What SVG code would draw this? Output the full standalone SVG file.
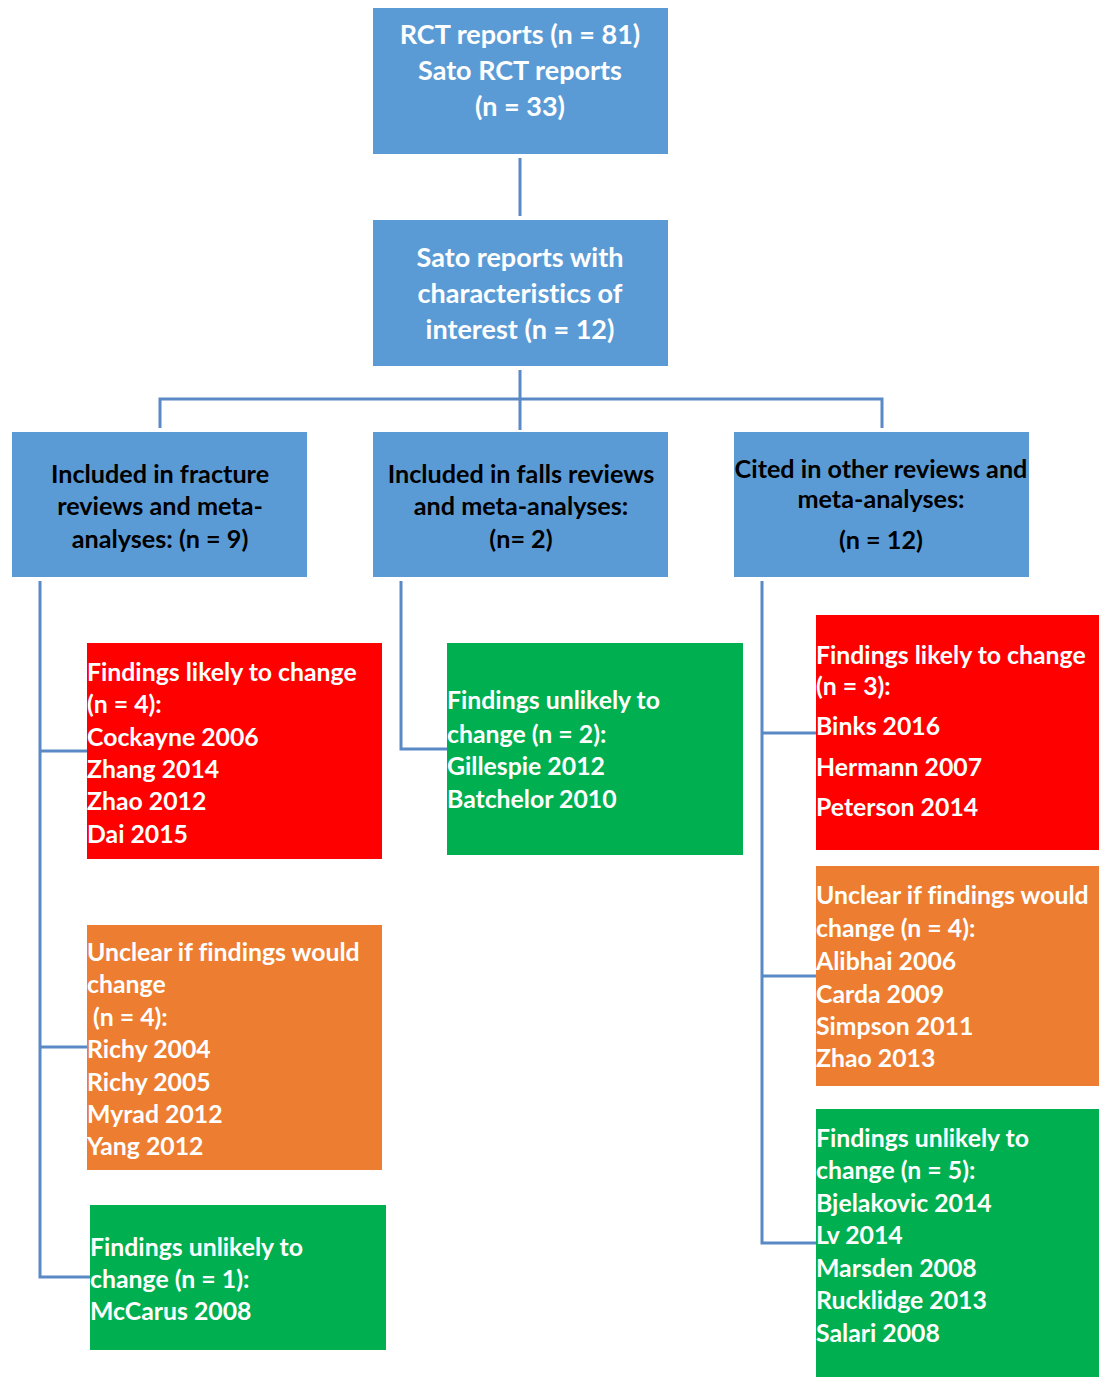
<svg xmlns="http://www.w3.org/2000/svg" width="1099" height="1379" viewBox="0 0 1099 1379">
  <style>
    .blue { fill: #5B9BD5; }
    .red { fill: #FF0000; }
    .orange { fill: #ED7D31; }
    .green { fill: #00B050; }
    .link { fill: none; stroke: #5A8AC6; stroke-width: 3; }
    text { font-family: Lato, "Open Sans", "Liberation Sans", sans-serif; font-weight: bold; font-variant-ligatures: none; }
    .head { font-size: 27px; fill: #FFFFFF; text-anchor: middle; }
    .cat { font-size: 25.2px; fill: #000000; text-anchor: middle; }
    .list { font-size: 24.8px; fill: #FFFFFF; }
  </style>
  <rect width="1099" height="1379" fill="#FFFFFF"/>

  <g id="connectors">
    <path class="link" d="M520 158 V216"/>
    <path class="link" d="M520 370 V430 M160 428 V399 H882 V428"/>
    <path class="link" d="M40 581 V1277 H90 M40 751 H87 M40 1047 H87"/>
    <path class="link" d="M401 581 V749 H447"/>
    <path class="link" d="M762 581 V1243 H816 M762 733 H816 M762 976 H816"/>
  </g>

  <g id="rct-reports">
    <rect class="blue" x="373" y="8" width="295" height="146"/>
    <text class="head" x="520" y="44">RCT reports (n = 81)</text>
    <text class="head" x="520" y="80">Sato RCT reports</text>
    <text class="head" x="520" y="116">(n = 33)</text>
  </g>

  <g id="sato-interest">
    <rect class="blue" x="373" y="220" width="295" height="146"/>
    <text class="head" x="520" y="267">Sato reports with</text>
    <text class="head" x="520" y="303">characteristics of</text>
    <text class="head" x="520" y="339">interest (n = 12)</text>
  </g>

  <g id="fracture-reviews">
    <rect class="blue" x="12" y="432" width="295" height="145"/>
    <text class="cat" x="160" y="483">Included in fracture</text>
    <text class="cat" x="160" y="515">reviews and meta-</text>
    <text class="cat" x="160" y="548">analyses: (n = 9)</text>
  </g>

  <g id="falls-reviews">
    <rect class="blue" x="373" y="432" width="295" height="145"/>
    <text class="cat" x="521" y="483">Included in falls reviews</text>
    <text class="cat" x="521" y="515">and meta-analyses:</text>
    <text class="cat" x="521" y="548">(n= 2)</text>
  </g>

  <g id="other-reviews">
    <rect class="blue" x="734" y="432" width="295" height="145"/>
    <text class="cat" x="881" y="478">Cited in other reviews and</text>
    <text class="cat" x="881" y="508">meta-analyses:</text>
    <text class="cat" x="881" y="549">(n = 12)</text>
  </g>

  <g id="fracture-likely">
    <rect class="red" x="87" y="643" width="295" height="216"/>
    <text class="list" x="87" y="681">Findings likely to change</text>
    <text class="list" x="87" y="713">(n = 4):</text>
    <text class="list" x="87" y="746">Cockayne 2006</text>
    <text class="list" x="87" y="778">Zhang 2014</text>
    <text class="list" x="87" y="810">Zhao 2012</text>
    <text class="list" x="87" y="843">Dai 2015</text>
  </g>

  <g id="fracture-unclear">
    <rect class="orange" x="87" y="925" width="295" height="245"/>
    <text class="list" x="87" y="961">Unclear if findings would</text>
    <text class="list" x="87" y="993">change</text>
    <text class="list" x="87" y="1026" xml:space="preserve"> (n = 4):</text>
    <text class="list" x="87" y="1058">Richy 2004</text>
    <text class="list" x="87" y="1091">Richy 2005</text>
    <text class="list" x="87" y="1123">Myrad 2012</text>
    <text class="list" x="87" y="1155">Yang 2012</text>
  </g>

  <g id="fracture-unlikely">
    <rect class="green" x="90" y="1205" width="296" height="145"/>
    <text class="list" x="90" y="1256">Findings unlikely to</text>
    <text class="list" x="90" y="1288">change (n = 1):</text>
    <text class="list" x="90" y="1320">McCarus 2008</text>
  </g>

  <g id="falls-unlikely">
    <rect class="green" x="447" y="643" width="296" height="212"/>
    <text class="list" x="447" y="709">Findings unlikely to</text>
    <text class="list" x="447" y="743">change (n = 2):</text>
    <text class="list" x="447" y="775">Gillespie 2012</text>
    <text class="list" x="447" y="808">Batchelor 2010</text>
  </g>

  <g id="other-likely">
    <rect class="red" x="816" y="615" width="283" height="235"/>
    <text class="list" x="816" y="664">Findings likely to change</text>
    <text class="list" x="816" y="695">(n = 3):</text>
    <text class="list" x="816" y="735">Binks 2016</text>
    <text class="list" x="816" y="776">Hermann 2007</text>
    <text class="list" x="816" y="816">Peterson 2014</text>
  </g>

  <g id="other-unclear">
    <rect class="orange" x="816" y="866" width="283" height="220"/>
    <text class="list" x="816" y="904">Unclear if findings would</text>
    <text class="list" x="816" y="937">change (n = 4):</text>
    <text class="list" x="816" y="970">Alibhai 2006</text>
    <text class="list" x="816" y="1003">Carda 2009</text>
    <text class="list" x="816" y="1035">Simpson 2011</text>
    <text class="list" x="816" y="1067">Zhao 2013</text>
  </g>

  <g id="other-unlikely">
    <rect class="green" x="816" y="1109" width="283" height="268"/>
    <text class="list" x="816" y="1147">Findings unlikely to</text>
    <text class="list" x="816" y="1179">change (n = 5):</text>
    <text class="list" x="816" y="1212">Bjelakovic 2014</text>
    <text class="list" x="816" y="1244">Lv 2014</text>
    <text class="list" x="816" y="1277">Marsden 2008</text>
    <text class="list" x="816" y="1309">Rucklidge 2013</text>
    <text class="list" x="816" y="1342">Salari 2008</text>
  </g>
</svg>
